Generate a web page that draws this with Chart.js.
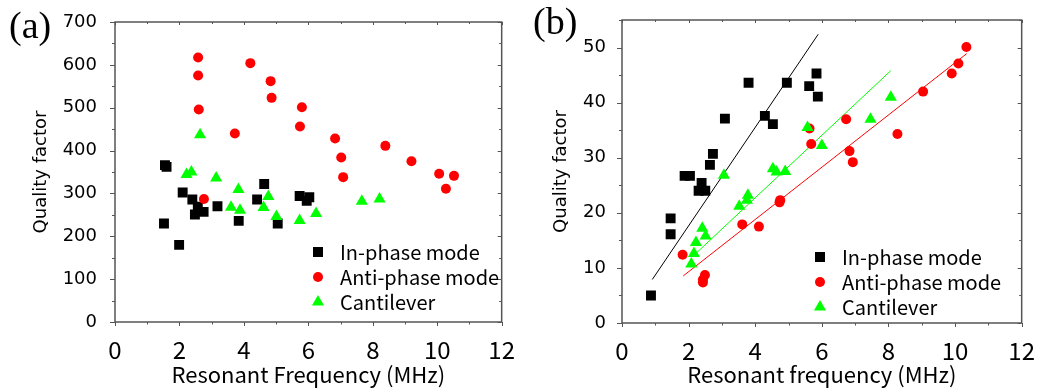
<!DOCTYPE html>
<html>
<head>
<meta charset="utf-8">
<script src="https://cdn.jsdelivr.net/npm/chart.js@4/dist/chart.umd.min.js"></script>
<style>
  body { margin: 0; background: #fff; }
  #wrap { position: relative; width: 1040px; height: 390px; }
  canvas { position: absolute; top: 0; }
  #chartA { left: 0; }
  #chartB { left: 520px; }
</style>
</head>
<body>
<div id="wrap">
  <canvas id="chartA" width="520" height="390"></canvas>
  <canvas id="chartB" width="520" height="390"></canvas>
</div>
<script>
// (a) quality factor vs resonant frequency
const inPhaseFreqA = [1.55, 1.6, 1.52, 1.99, 2.1, 2.4, 2.48, 2.57, 2.75, 3.18, 3.84, 4.41, 4.63, 5.05, 5.73, 5.95, 6.03];
const inPhaseQA = [366, 362, 230, 180, 302, 286, 251, 269, 257, 270, 236, 286, 322, 230, 294, 283, 291];
const antiFreqA = [2.58, 2.58, 2.6, 2.76, 3.72, 4.2, 4.83, 4.86, 5.74, 5.8, 6.83, 7.02, 7.08, 8.39, 9.2, 10.06, 10.27, 10.52];
const antiQA = [617, 575, 496, 287, 440, 604, 562, 523, 456, 501, 428, 384, 338, 411, 375, 346, 311, 341];
const cantFreqA = [2.22, 2.37, 2.64, 3.14, 3.6, 3.83, 3.88, 4.61, 4.76, 5.01, 5.73, 6.24, 7.66, 8.21];
const cantQA = [344, 350, 437, 336, 268, 309, 261, 267, 293, 246, 237, 253, 282, 287];

// (b) quality factor vs resonant frequency, with linear fits
const inPhaseFreqB = [0.87, 1.46, 1.46, 1.88, 2.04, 2.3, 2.39, 2.5, 2.64, 2.73, 3.09, 3.8, 4.29, 4.53, 4.95, 5.62, 5.84, 5.88];
const inPhaseQB = [5.0, 16.1, 19.0, 26.7, 26.7, 24.0, 25.4, 24.0, 28.7, 30.7, 37.1, 43.6, 37.6, 36.1, 43.6, 43.0, 45.3, 41.1];
const antiFreqB = [1.82, 2.43, 2.43, 2.49, 3.61, 4.11, 4.73, 4.75, 5.63, 5.68, 6.73, 6.83, 6.93, 8.27, 9.04, 9.9, 10.1, 10.34];
const antiQB = [12.4, 7.35, 7.9, 8.7, 17.9, 17.5, 21.9, 22.3, 35.3, 32.5, 37.0, 31.2, 29.2, 34.3, 42.0, 45.3, 47.1, 50.1];
const cantFreqB = [2.08, 2.16, 2.22, 2.41, 2.51, 3.06, 3.52, 3.75, 3.78, 4.53, 4.64, 4.9, 5.57, 6.0, 7.46, 8.07];
const cantQB = [10.7, 12.6, 14.6, 17.2, 15.8, 26.8, 21.2, 22.3, 23.2, 28.0, 27.4, 27.5, 35.5, 32.2, 37.0, 41.0];

const inPhaseFitFreq = [0.91, 5.89];
const inPhaseFitQ = [7.9, 52.4];
const antiFitFreq = [1.84, 10.35];
const antiFitQ = [8.55, 48.9];
const cantFitFreq = [2.16, 8.07];
const cantFitQ = [12.3, 45.8];

const seriesLabels = ["In-phase mode", "Anti-phase mode", "Cantilever"];
const xTicks = [0, 2, 4, 6, 8, 10, 12];

const BLACK = "#000000";
const RED = "#ff0000";
const GREEN = "#00ff00";
const FRAME = "#555555";
const CJK = "'Noto Sans CJK JP', 'Noto Sans', sans-serif";
const SANS = "'DejaVu Sans', 'Liberation Sans', sans-serif";

function toPoints(xs, ys) {
    return xs.map((x, i) => ({ x: x, y: ys[i] }));
}

function scatterSet(label, xs, ys, style, radius, color, order) {
    return {
        label: label,
        data: toPoints(xs, ys),
        pointStyle: style,
        pointRadius: radius,
        pointHoverRadius: radius,
        backgroundColor: color,
        borderColor: color,
        borderWidth: 0,
        showLine: false,
        order: order
    };
}

function fitSet(xs, ys, color) {
    return {
        data: toPoints(xs, ys),
        showLine: true,
        borderColor: color,
        borderWidth: 1,
        pointRadius: 0,
        fill: false,
        order: 10
    };
}

function drawMarker(ctx, style, x, y, color) {
    ctx.fillStyle = color;
    ctx.beginPath();
    if (style === "rect") {
        ctx.rect(x - 5, y - 5, 10, 10);
    } else if (style === "circle") {
        ctx.arc(x, y, 5, 0, Math.PI * 2);
    } else {
        ctx.moveTo(x, y - 7);
        ctx.lineTo(x + 6.06, y + 3.5);
        ctx.lineTo(x - 6.06, y + 3.5);
        ctx.closePath();
    }
    ctx.fill();
}

// frame, minor/major ticks, titles, legend and panel letter
function decorPlugin(d) {
    return {
        id: "decor",
        afterDraw(chart) {
            const ctx = chart.ctx;
            const a = chart.chartArea;
            const xs = chart.scales.x;
            const ys = chart.scales.y;
            ctx.save();
            ctx.strokeStyle = FRAME;
            ctx.lineWidth = 1.5;
            ctx.strokeRect(a.left, a.top, a.right - a.left, a.bottom - a.top);

            ctx.lineWidth = 1;
            ctx.beginPath();
            for (let v = 0; v <= 12; v += 1) {
                const px = Math.round(xs.getPixelForValue(v)) + 0.5;
                const major = v % 2 === 0;
                ctx.moveTo(px, a.bottom);
                ctx.lineTo(px, a.bottom + (major ? 4 : 2.5));
                ctx.moveTo(px, a.top);
                ctx.lineTo(px, a.top + (major ? 3 : 2));
            }
            for (let v = 0; v <= d.yMax + 1e-9; v += d.yMinor) {
                const py = Math.round(ys.getPixelForValue(v)) + 0.5;
                const major = Math.abs(v / d.yMajor - Math.round(v / d.yMajor)) < 1e-6;
                ctx.moveTo(a.left, py);
                ctx.lineTo(a.left - (major ? 5 : 3), py);
                ctx.moveTo(a.right, py);
                ctx.lineTo(a.right - (major ? 4 : 2.5), py);
            }
            ctx.stroke();

            // axis titles
            ctx.fillStyle = "#000";
            ctx.font = "22px " + CJK;
            ctx.textAlign = "center";
            ctx.textBaseline = "middle";
            ctx.fillText(d.xTitle, (a.left + a.right) / 2, 375);

            ctx.save();
            ctx.translate(d.yTitleX, (a.top + a.bottom) / 2);
            ctx.rotate(-Math.PI / 2);
            ctx.font = "18px " + SANS;
            ctx.fillText("Quality factor", 0, 0);
            ctx.restore();

            // panel letter
            ctx.font = "38px 'Liberation Serif', 'Times New Roman', serif";
            ctx.textAlign = "left";
            ctx.textBaseline = "alphabetic";
            ctx.fillText(d.letter, d.letterX, d.letterY);

            // legend
            const styles = ["rect", "circle", "triangle"];
            const colors = [BLACK, RED, GREEN];
            ctx.font = "20px " + CJK;
            ctx.textBaseline = "middle";
            for (let i = 0; i < 3; i++) {
                const ly = d.legendY + i * 25;
                drawMarker(ctx, styles[i], d.legendX, ly, colors[i]);
                ctx.fillStyle = "#000";
                ctx.fillText(seriesLabels[i], d.legendX + 22, ly);
            }
            ctx.restore();
        }
    };
}

function makeChart(id, datasets, opt) {
    return new Chart(document.getElementById(id), {
        type: "scatter",
        data: { datasets: datasets },
        options: {
            responsive: false,
            animation: false,
            events: [],
            layout: { padding: { top: opt.top, right: opt.right, left: 0, bottom: 0 } },
            plugins: { legend: { display: false }, tooltip: { enabled: false } },
            scales: {
                x: {
                    type: "linear",
                    min: 0,
                    max: 12,
                    afterFit: (s) => { s.height = opt.xHeight; },
                    afterBuildTicks: (s) => { s.ticks = xTicks.map(v => ({ value: v })); },
                    grid: { display: false },
                    border: { display: false },
                    ticks: {
                        padding: 5,
                        color: "#000",
                        maxRotation: 0,
                        font: { family: CJK, size: 24 }
                    }
                },
                y: {
                    type: "linear",
                    min: 0,
                    max: opt.yMax,
                    afterFit: (s) => { s.width = opt.yWidth; },
                    grid: { display: false },
                    border: { display: false },
                    ticks: {
                        stepSize: opt.yMajor,
                        padding: opt.yPad,
                        color: "#000",
                        font: { family: SANS, size: 18 },
                        callback: (v) => (v % opt.yMajor === 0 ? v : "")
                    }
                }
            }
        },
        plugins: [decorPlugin(opt)]
    });
}

makeChart("chartA", [
    scatterSet(seriesLabels[0], inPhaseFreqA, inPhaseQA, "rect", 7, BLACK, 3),
    scatterSet(seriesLabels[1], antiFreqA, antiQA, "circle", 5, RED, 2),
    scatterSet(seriesLabels[2], cantFreqA, cantQA, "triangle", 7, GREEN, 1)
], {
    top: 22, right: 5, xHeight: 68, yWidth: 115, yPad: 10,
    yMax: 700, yMajor: 100, yMinor: 50,
    xTitle: "Resonant Frequency (MHz)", yTitleX: 41,
    letter: "(a)", letterX: 9, letterY: 38,
    legendX: 318, legendY: 252
});

makeChart("chartB", [
    fitSet(inPhaseFitFreq, inPhaseFitQ, BLACK),
    fitSet(antiFitFreq, antiFitQ, RED),
    fitSet(cantFitFreq, cantFitQ, GREEN),
    scatterSet(seriesLabels[0], inPhaseFreqB, inPhaseQB, "rect", 7, BLACK, 3),
    scatterSet(seriesLabels[1], antiFreqB, antiQB, "circle", 5, RED, 2),
    scatterSet(seriesLabels[2], cantFreqB, cantQB, "triangle", 7, GREEN, 1)
], {
    top: 20, right: 17, xHeight: 67, yWidth: 102, yPad: 8,
    yMax: 55, yMajor: 10, yMinor: 5,
    xTitle: "Resonant frequency (MHz)", yTitleX: 41,
    letter: "(b)", letterX: 13, letterY: 34,
    legendX: 300, legendY: 257
});
</script>
</body>
</html>
